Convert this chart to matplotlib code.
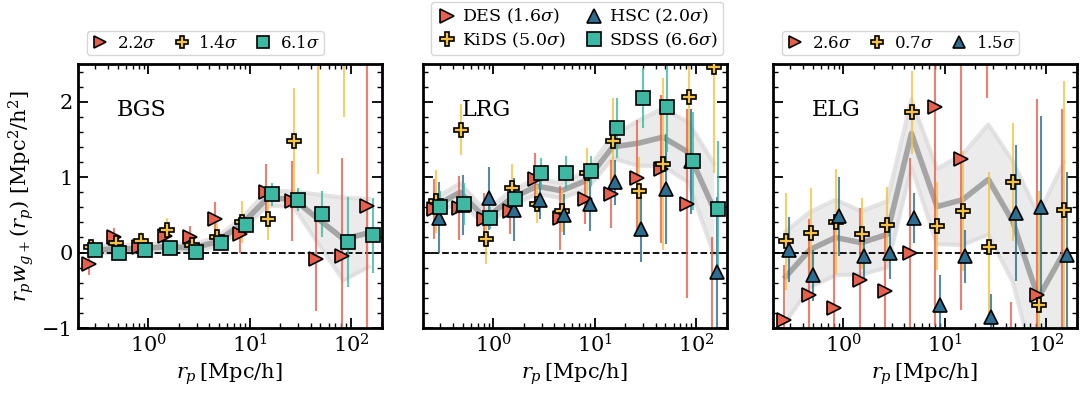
import numpy as np
import matplotlib.pyplot as plt
from matplotlib.ticker import MultipleLocator

plt.rcParams['font.family'] = ['DejaVu Serif']
plt.rcParams['mathtext.fontset'] = 'dejavuserif'

nan = np.nan

# projected separation bins [Mpc/h]
rp = [0.27, 0.47, 0.84, 1.5, 2.7, 4.7, 8.4, 15., 27., 47., 84., 150.]

# ---- BGS
bgs_des = [-0.15, 0.21, 0.07, 0.22, 0.20, 0.45, 0.24, 0.80, 0.68, -0.08, -0.04, 0.62]
bgs_des_err = [0.15, 0.12, 0.10, 0.15, 0.15, 0.22, 0.25, 0.38, 0.53, 0.70, 1.30, 2.50]
bgs_kids = [0.08, 0.13, 0.15, 0.30, 0.10, 0.21, 0.41, 0.45, 1.48, 3.50, 3.80, nan]
bgs_kids_err = [0.10, 0.10, 0.12, 0.16, 0.14, 0.18, 0.28, 0.28, 0.70, 2.46, 2.00, nan]
bgs_sdss = [0.03, -0.01, 0.03, 0.06, 0.01, 0.13, 0.37, 0.77, 0.70, 0.51, 0.14, 0.23]
bgs_sdss_err = [0.06, 0.05, 0.05, 0.05, 0.05, 0.07, 0.10, 0.15, 0.15, 0.30, 0.60, 0.50]
bgs_fit = [0.03, 0.05, 0.05, 0.08, 0.06, 0.14, 0.38, 0.72, 0.71, 0.45, 0.18, 0.26]
bgs_fit_err = [0.05, 0.05, 0.05, 0.05, 0.05, 0.06, 0.08, 0.10, 0.10, 0.32, 0.55, 0.45]

# ---- LRG
lrg_des = [0.58, 0.59, 0.44, 0.55, 0.97, 0.46, 0.71, 0.78, 0.99, 1.11, 0.65, -1.40]
lrg_des_err = [0.40, 0.42, 0.35, 0.30, 0.35, 0.42, 0.33, 0.45, 0.77, 0.98, 1.25, 1.60]
lrg_kids = [0.68, 1.63, 0.18, 0.85, 0.64, 0.55, 1.06, 1.48, 0.81, 1.17, 2.06, 2.46]
lrg_kids_err = [0.42, 0.34, 0.33, 0.32, 0.25, 0.28, 0.33, 0.57, 0.46, 1.14, 0.77, 1.40]
lrg_hsc = [0.46, 0.63, 0.72, 0.57, 0.70, 0.50, 0.64, 0.93, 0.31, 0.84, 1.21, -0.26]
lrg_hsc_err = [0.47, 0.40, 0.42, 0.42, 0.25, 0.27, 0.35, 0.30, 0.44, 0.73, 0.70, 1.00]
lrg_sdss = [0.61, 0.64, 0.46, 0.71, 1.05, 1.06, 1.08, 1.65, 2.05, 1.93, 1.21, 0.58]
lrg_sdss_err = [0.20, 0.28, 0.15, 0.20, 0.20, 0.22, 0.20, 0.40, 0.40, 0.60, 0.65, 0.90]
lrg_fit = [0.62, 0.80, 0.45, 0.72, 0.88, 0.82, 0.96, 1.40, 1.45, 1.53, 1.33, 0.58]
lrg_fit_err = [0.10, 0.12, 0.10, 0.10, 0.10, 0.10, 0.12, 0.15, 0.30, 0.38, 0.40, 0.60]

# ---- ELG
elg_des = [-0.89, -0.56, -0.73, -0.37, -0.51, -0.01, 1.93, 1.24, 3.50, -1.60, -0.56, -1.30]
elg_des_err = [0.72, 1.00, 1.20, 0.96, 0.95, 1.26, 2.90, 2.00, 1.45, 0.95, 2.60, 3.20]
elg_kids = [0.15, 0.26, 0.41, 0.25, 0.37, 1.86, 0.35, 0.55, 0.07, 0.94, -0.69, 0.57]
elg_kids_err = [0.64, 0.60, 0.70, 0.47, 0.50, 0.55, 0.58, 0.80, 1.00, 0.78, 1.50, 1.70]
elg_hsc = [0.04, -0.30, 0.48, -0.05, -0.01, 0.46, -0.70, -0.05, -0.85, 0.52, 0.61, -0.03]
elg_hsc_err = [0.43, 0.34, 0.52, 0.30, 0.34, 0.33, 0.40, 0.35, 0.30, 0.90, 1.20, 1.10]
elg_fit = [-0.32, 0.04, 0.20, 0.13, 0.24, 1.58, 0.61, 0.70, 0.97, 0.41, -0.60, 0.00]
elg_fit_err = [0.60, 0.50, 0.50, 0.42, 0.44, 0.45, 0.50, 0.60, 0.73, 0.80, 1.10, 1.20]

# legend significances
bgs_sig = {'DES': '2.2', 'KiDS': '1.4', 'SDSS': '6.1'}
lrg_sig = {'DES': '1.6', 'KiDS': '5.0', 'HSC': '2.0', 'SDSS': '6.6'}
elg_sig = {'DES': '2.6', 'KiDS': '0.7', 'HSC': '1.5'}

# style per survey: colour, marker, dodge factor in r_p
style = {'DES': ('#E8604C', '>', 0.965),
         'KiDS': ('#F5C242', 'P', 1.01),
         'HSC': ('#2B6E8F', '^', 1.07),
         'SDSS': ('#3DB8A3', 's', 1.1)}

fig = plt.figure(figsize=(10.8, 3.93), dpi=100)
W, H = 1080., 393.
axes = [fig.add_axes([x0/W, (H-328.)/H, 304./W, 264./H]) for x0 in (77.5, 422.5, 772.5)]

panels = [
    ('BGS', {'DES': (bgs_des, bgs_des_err), 'KiDS': (bgs_kids, bgs_kids_err),
             'SDSS': (bgs_sdss, bgs_sdss_err)}, bgs_fit, bgs_fit_err, bgs_sig),
    ('LRG', {'DES': (lrg_des, lrg_des_err), 'KiDS': (lrg_kids, lrg_kids_err),
             'HSC': (lrg_hsc, lrg_hsc_err), 'SDSS': (lrg_sdss, lrg_sdss_err)},
     lrg_fit, lrg_fit_err, lrg_sig),
    ('ELG', {'DES': (elg_des, elg_des_err), 'KiDS': (elg_kids, elg_kids_err),
             'HSC': (elg_hsc, elg_hsc_err)}, elg_fit, elg_fit_err, elg_sig),
]

x = np.array(rp)
for i, (ax, (name, surveys, fit, fit_err, sig)) in enumerate(zip(axes, panels)):
    fit = np.array(fit); fit_err = np.array(fit_err)
    ax.fill_between(x, fit-fit_err, fit+fit_err, color='0.92', lw=0, zorder=1)
    ax.plot(x, fit-fit_err, color='0.85', lw=3, alpha=0.7, zorder=1.1)
    ax.plot(x, fit+fit_err, color='0.85', lw=3, alpha=0.7, zorder=1.1)
    ax.plot(x, fit, color='0.6', lw=4, alpha=0.85, zorder=1.2)
    ax.axhline(0, color='k', ls='--', lw=1.3, zorder=1.5)

    handles = {}
    for s, (y, e) in surveys.items():
        c, m, f = style[s]
        ax.errorbar(x*f, y, yerr=e, fmt='none', ecolor=c, elinewidth=1.5,
                    alpha=0.8, zorder=2)
        h, = ax.plot(x*f, y, m, ls='none', mfc=c, mec='k', mew=1.2, ms=10,
                     zorder=4)
        handles[s] = h

    if i == 1:
        order = ['DES', 'KiDS', 'HSC', 'SDSS']
        labs = [r'%s (%s$\sigma$)' % (s, sig[s]) for s in order]
        ax.legend([handles[s] for s in order], labs, ncol=2, loc='lower left',
                  bbox_to_anchor=(0.028, 1.034), borderaxespad=0, fontsize=12.5,
                  handletextpad=0.3, columnspacing=1.0, labelspacing=0.25,
                  borderpad=0.3, handlelength=1.2)
    else:
        order = list(surveys.keys())
        labs = [r'%s$\sigma$' % sig[s] for s in order]
        ax.legend([handles[s] for s in order], labs, ncol=3, loc='lower left',
                  bbox_to_anchor=(0.031, 1.034), borderaxespad=0, fontsize=12,
                  handletextpad=0.4, columnspacing=0.9, borderpad=0.2,
                  handlelength=1.2, markerscale=0.85)

    ax.text(0.13, 0.825, name, transform=ax.transAxes, fontsize=16, va='center')

    ax.set_xscale('log')
    ax.set_xlim(0.2, 200)
    ax.set_ylim(-1, 2.5)
    ax.yaxis.set_major_locator(MultipleLocator(1))
    ax.yaxis.set_minor_locator(MultipleLocator(0.2))
    ax.tick_params(which='both', direction='in', top=True, right=True,
                   labelsize=15)
    ax.tick_params(which='major', length=7, width=1.3)
    ax.tick_params(which='minor', length=3.5, width=1.0)
    for sp in ax.spines.values():
        sp.set_linewidth(2)
    ax.set_xlabel(r'$r_p\,$[Mpc/h]', fontsize=15)
    if i == 0:
        ax.set_ylabel(r'$r_p w_{g+}(r_p)$ [Mpc$^2$/h$^2$]', fontsize=15)
    else:
        ax.set_yticklabels([])

fig.savefig('out.png', dpi=100)
